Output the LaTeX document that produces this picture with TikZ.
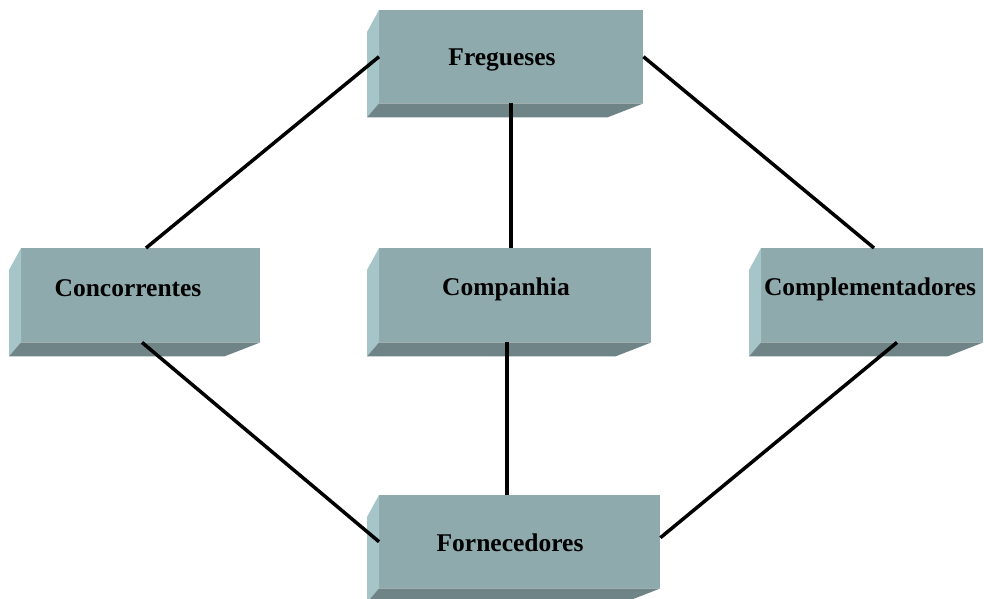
\documentclass[tikz,border=0pt]{standalone}
\usepackage{fontspec}
\setmainfont{Liberation Serif}
\usetikzlibrary{calc}
\definecolor{faceFront}{HTML}{8FAAAD}
\definecolor{faceSide}{HTML}{A5C5C9}
\definecolor{faceBottom}{HTML}{6F8486}
\tikzset{
  x=1pt, y=-1pt,
  front/.style={draw=none, fill=faceFront, rectangle, inner sep=0pt},
  side/.style={fill=faceSide},
  bottomface/.style={fill=faceBottom},
  label text/.style={font=\bfseries\fontsize{25.5}{28}\selectfont, inner sep=0pt, text=black},
  link/.style={line width=3.5pt, black}
}
% \bevelbox{name}{x1}{y1}{x2}{y2}: front face plus the lit left side and shaded base
\newcommand{\bevelbox}[5]{%
  \node[front, minimum width={#4-#2}, minimum height={#5-#3}, anchor=north west] (#1) at (#2,#3) {};
  \fill[side] (#1.north west) -- ++(-12,22) -- ($(#1.south west)+(-12,14)$) -- (#1.south west) -- cycle;
  \fill[bottomface] (#1.south west) -- ++(-12,14) -- ($(#1.south east)+(-36,14)$) -- (#1.south east) -- cycle;
}
\begin{document}
\begin{tikzpicture}
\useasboundingbox (0,0) rectangle (984,598);
\clip (0,0) rectangle (984,598);
\fill[white] (0,0) rectangle (984,598);

\bevelbox{freg}{379}{10}{643}{103}
\bevelbox{conc}{21}{248}{260}{342}
\bevelbox{comp}{379}{248}{651}{342}
\bevelbox{compl}{761}{248}{983}{342}
\bevelbox{forn}{379}{495}{660}{588}

\node[label text] (tfreg) at (502,60) {Fregueses};
\node[label text] (tconc) at (128,288) {Concorrentes};
\node[label text] (tcomp) at (506,289) {Companhia};
\node[label text] (tcompl) at (870,289) {Complementadores};
\node[label text] (tforn) at (510,543) {Fornecedores};

% connectors
\draw[link] (freg.west) -- ($(conc.north west)+(125,0)$);
\draw[link] ($(freg.south west)+(132,0)$) -- ($(comp.north west)+(132,0)$);
\draw[link] (freg.east) -- ($(compl.north west)+(113,0)$);
\draw[link] ($(conc.south west)+(121,0)$) -- (forn.west);
\draw[link] ($(comp.south west)+(128,0)$) -- ($(forn.north west)+(128,0)$);
\draw[link] ($(compl.south west)+(136,0)$) -- ($(forn.east)+(0,-4)$);
\end{tikzpicture}
\end{document}
